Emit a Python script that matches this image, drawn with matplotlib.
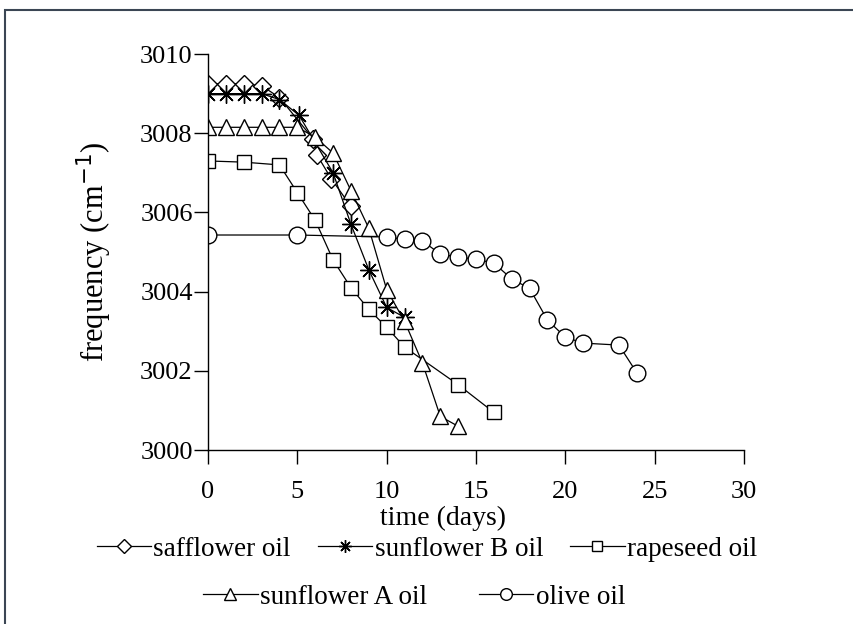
import matplotlib
matplotlib.use("Agg")
import matplotlib.pyplot as plt
from matplotlib.lines import Line2D
from matplotlib.patches import Rectangle

plt.rcParams['font.family'] = ['Liberation Serif', 'DejaVu Serif']

# data
safflower_days = [0, 1, 2, 3, 4, 5.9, 6.1, 6.9, 8]
safflower_freq = [3009.25, 3009.25, 3009.25, 3009.2, 3008.9, 3007.85, 3007.45, 3006.85, 3006.15]

sunB_days = [0, 1, 2, 3, 4, 5.1, 7, 8, 9, 10, 11]
sunB_freq = [3009.0, 3009.0, 3009.0, 3009.0, 3008.85, 3008.45, 3007.0, 3005.7, 3004.55, 3003.6, 3003.35]

rape_days = [0, 2, 4, 5, 6, 7, 8, 9, 10, 11, 14, 16]
rape_freq = [3007.3, 3007.27, 3007.2, 3006.5, 3005.8, 3004.8, 3004.1, 3003.55, 3003.1, 3002.6, 3001.65, 3000.95]

sunA_days = [0, 1, 2, 3, 4, 5, 6, 7, 8, 9, 10, 11, 12, 13, 14]
sunA_freq = [3008.15, 3008.15, 3008.15, 3008.15, 3008.15, 3008.15, 3007.9, 3007.5, 3006.55,
             3005.6, 3004.05, 3003.25, 3002.2, 3000.85, 3000.6]

olive_days = [0, 5, 10, 11, 12, 13, 14, 15, 16, 17, 18, 19, 20, 21, 23, 24]
olive_freq = [3005.43, 3005.43, 3005.38, 3005.32, 3005.28, 3004.95, 3004.87, 3004.82, 3004.72,
              3004.32, 3004.08, 3003.28, 3002.85, 3002.7, 3002.65, 3001.95]

x_ticks = [0, 5, 10, 15, 20, 25, 30]
y_ticks = [3000, 3002, 3004, 3006, 3008, 3010]

fig = plt.figure(figsize=(8.54, 6.24), dpi=100)
ax = fig.add_axes([0.2436, 0.2788, 0.6276, 0.6346])

star = (8, 2, 0)
styles = [
    ("safflower oil", safflower_days, safflower_freq, "D", 9.5),
    ("sunflower B oil", sunB_days, sunB_freq, star, 13),
    ("rapeseed oil", rape_days, rape_freq, "s", 10),
    ("sunflower A oil", sunA_days, sunA_freq, "^", 12),
    ("olive oil", olive_days, olive_freq, "o", 12),
]
handles = []
for name, xs, ys, m, ms in styles:
    ax.plot(xs, ys, color="black", lw=0.9, marker=m, markersize=ms,
            markerfacecolor="white", markeredgecolor="black", markeredgewidth=1.0)
    handles.append(Line2D([], [], color="black", lw=0.9, marker=m, markersize=ms * 0.7,
                          markerfacecolor="white", markeredgecolor="black",
                          markeredgewidth=1.0, label=name))

ax.set_xlim(0, 30)
ax.set_ylim(3000, 3010)
ax.set_xticks(x_ticks)
ax.set_yticks(y_ticks)
ax.spines['top'].set_visible(False)
ax.spines['right'].set_visible(False)
ax.spines['left'].set_linewidth(1.0)
ax.spines['bottom'].set_linewidth(1.0)
ax.tick_params(direction="out", length=10, width=1.0, labelsize=19)
ax.tick_params(axis="x", pad=12)
ax.tick_params(axis="y", pad=1)
ax.set_xlabel("time (days)", fontsize=20)
ax.xaxis.set_label_coords(0.438, -0.14)
ax.set_ylabel("frequency (cm$^{-1}$)", fontsize=22)
ax.yaxis.set_label_coords(-0.175, 0.5)

leg1 = fig.legend(handles=handles[:3], loc="center", bbox_to_anchor=(0.5, 0.12), ncol=3,
                  frameon=False, fontsize=19.5, handlelength=2.0, handletextpad=0.1,
                  columnspacing=1.0, borderpad=0)
leg2 = fig.legend(handles=handles[3:], loc="center", bbox_to_anchor=(0.485, 0.043), ncol=2,
                  frameon=False, fontsize=19.5, handlelength=2.0, handletextpad=0.1,
                  columnspacing=1.9, borderpad=0)

# outer frame
fig.patches.append(Rectangle((5 / 854, -0.01), 1.0, 1 - 10 / 624 + 0.01, transform=fig.transFigure,
                             fill=False, edgecolor="#3b4654", lw=1.5))

fig.savefig("out.png", dpi=100)
